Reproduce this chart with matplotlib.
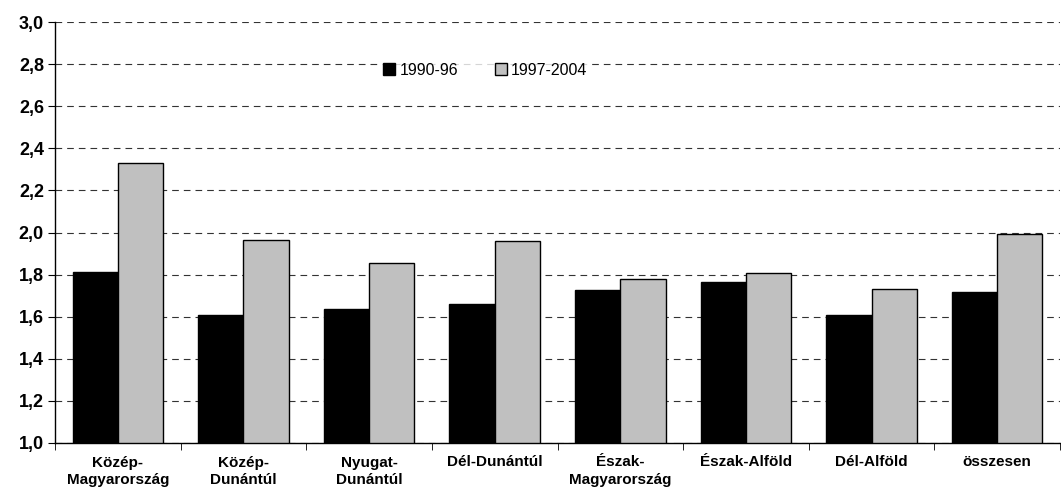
import numpy as np
import matplotlib
matplotlib.use("Agg")
import matplotlib.pyplot as plt

plt.rcParams.update({"font.family": ["Liberation Sans", "DejaVu Sans"]})

regions = ["Közép-\nMagyarország", "Közép-\nDunántúl", "Nyugat-\nDunántúl",
           "Dél-Dunántúl", "Észak-\nMagyarország", "Észak-Alföld",
           "Dél-Alföld", "összesen"]
p1 = [1.81, 1.61, 1.635, 1.66, 1.728, 1.765, 1.61, 1.717]
p2 = [2.33, 1.966, 1.855, 1.961, 1.779, 1.809, 1.733, 1.994]
labels = ["1990-96", "1997-2004"]
yticks = np.arange(1.0, 3.01, 0.2)

fig = plt.figure(figsize=(10.61, 4.97), dpi=100)
ax = fig.add_axes([55 / 1061, 54 / 497, 1005 / 1061, 421 / 497])

x = np.arange(len(regions))
w = 0.36
ax.bar(x - w / 2, np.array(p1) - 1, w, bottom=1, color="black",
       edgecolor="black", lw=1, label=labels[0], zorder=3)
ax.bar(x + w / 2, np.array(p2) - 1, w, bottom=1, color="#c0c0c0",
       edgecolor="black", lw=1, label=labels[1], zorder=3)

ax.set_xlim(-0.5, len(regions) - 0.5)
ax.set_ylim(1.0, 3.0)
ax.set_yticks(yticks)
ax.set_yticklabels([f"{v:.1f}".replace(".", ",") for v in yticks],
                   fontsize=13, fontweight="bold")
ax.set_xticks(x)
ax.set_xticklabels(regions, fontsize=11, fontweight="bold",
                   linespacing=1.3)
ax.set_xticks(np.arange(len(regions) + 1) - 0.5, minor=True)
ax.tick_params(axis="x", which="major", length=0, pad=9)
ax.tick_params(axis="x", which="minor", length=5, direction="out")
ax.tick_params(axis="y", length=5, direction="out", pad=3)
ax.yaxis.grid(True, color="#333333", lw=0.8, linestyle=(0, (6, 4.5)))
ax.set_axisbelow(True)
for s in ["top", "right"]:
    ax.spines[s].set_visible(False)
ax.spines["left"].set_linewidth(1)
ax.spines["bottom"].set_linewidth(1)

ax.legend(loc="center", bbox_to_anchor=(0.428, 0.885), ncol=2, frameon=True,
          facecolor="white", edgecolor="none", fontsize=11.5,
          handlelength=0.75, handleheight=0.75, handletextpad=0.25,
          columnspacing=2.3, borderpad=0.3)

fig.savefig("out.png", dpi=100, facecolor="white")
